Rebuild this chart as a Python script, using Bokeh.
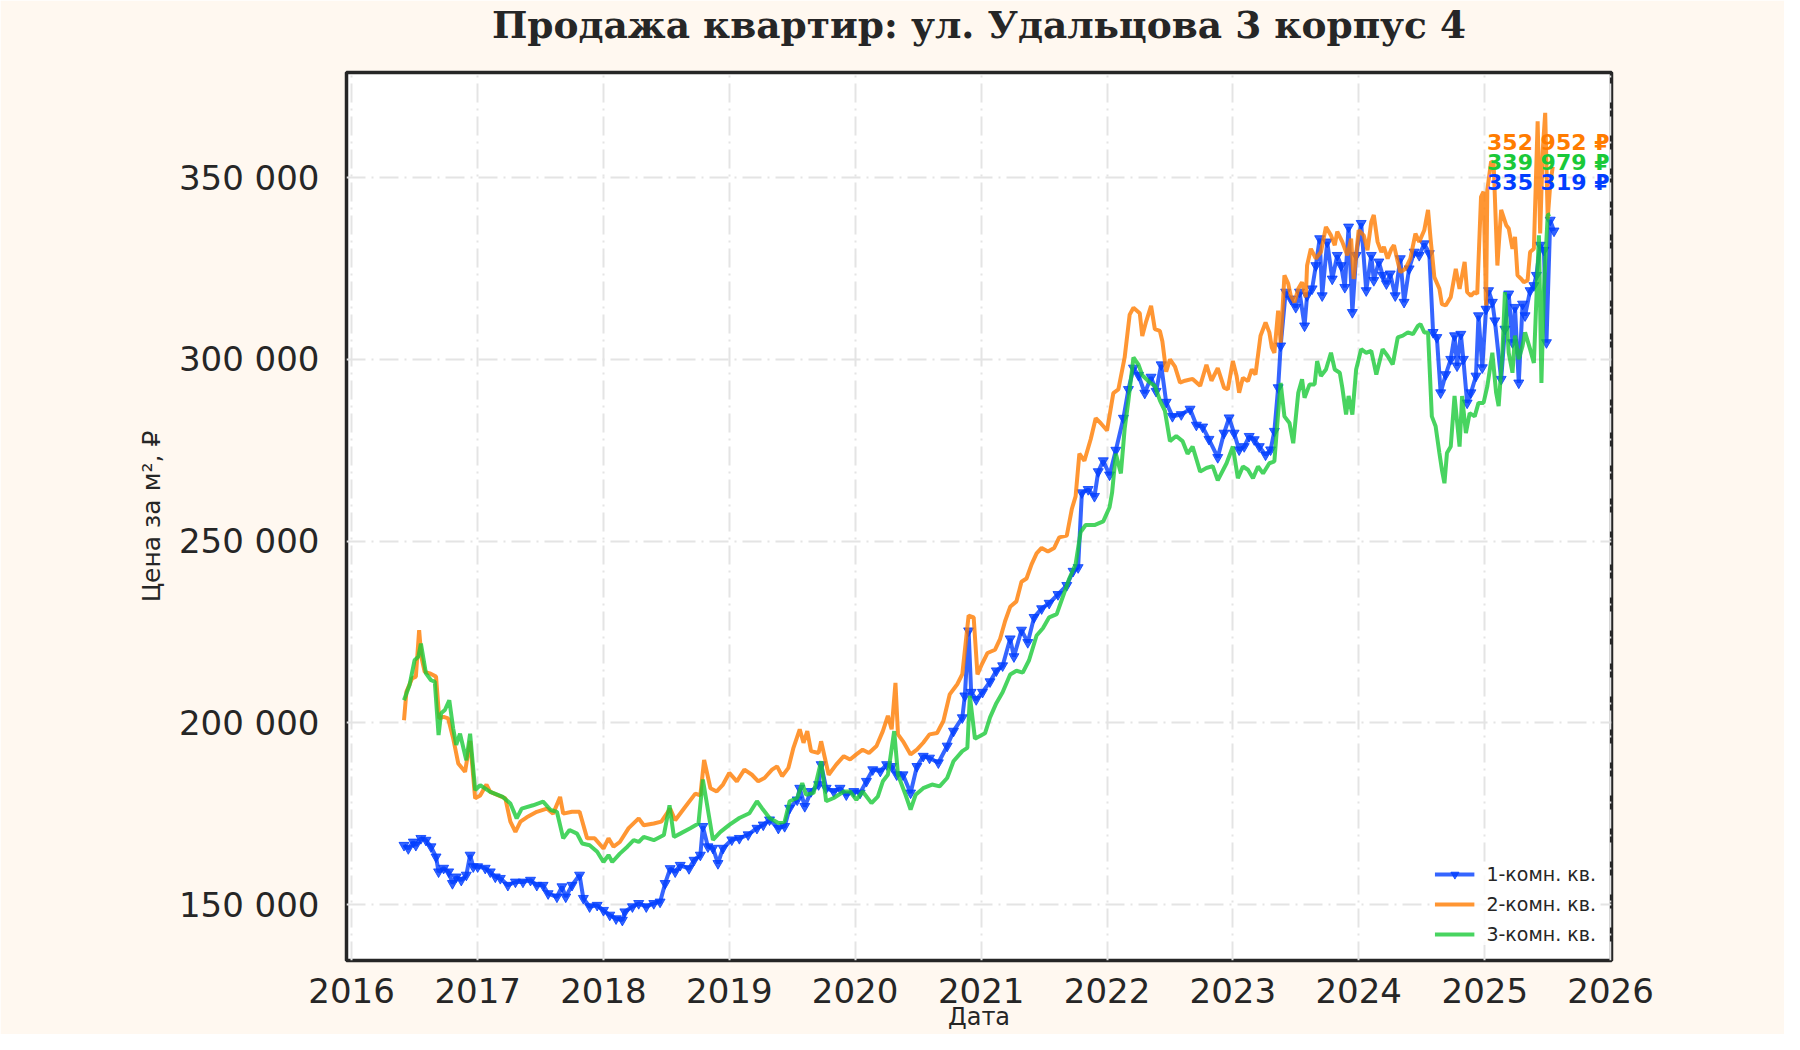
import numpy as np
import pandas as pd
from bokeh.plotting import figure
from bokeh.models import (FixedTicker, CustomJSTickFormatter, DatetimeTickFormatter,
                          Range1d, Legend, LegendItem, Label, Title)
from bokeh.embed import file_html
from bokeh.resources import INLINE

# ---------------- data (decimal years, price in thousand RUB per m2) ----------------
one_room_t = [2016.416, 2016.45, 2016.49, 2016.51, 2016.55, 2016.59, 2016.63, 2016.67, 2016.69, 2016.73,
              2016.77, 2016.8, 2016.83, 2016.87, 2016.91, 2016.94, 2016.965, 2017.0, 2017.06, 2017.1,
              2017.14, 2017.18, 2017.24, 2017.3, 2017.36, 2017.42, 2017.47, 2017.52, 2017.56, 2017.63,
              2017.67, 2017.7, 2017.75, 2017.81, 2017.84, 2017.89, 2017.95, 2018.0, 2018.05, 2018.1,
              2018.15, 2018.17, 2018.23, 2018.28, 2018.34, 2018.4, 2018.45, 2018.49, 2018.53, 2018.57,
              2018.61, 2018.68, 2018.72, 2018.77, 2018.79, 2018.83, 2018.87, 2018.91, 2018.95, 2019.02,
              2019.08, 2019.15, 2019.22, 2019.27, 2019.32, 2019.39, 2019.44, 2019.48, 2019.54, 2019.56,
              2019.6, 2019.65, 2019.71, 2019.73, 2019.77, 2019.83, 2019.88, 2019.93, 2019.99, 2020.04,
              2020.09, 2020.14, 2020.2, 2020.25, 2020.29, 2020.33, 2020.38, 2020.44, 2020.49, 2020.54,
              2020.59, 2020.66, 2020.73, 2020.78, 2020.85, 2020.87, 2020.9, 2020.92, 2020.96, 2021.01,
              2021.07, 2021.12, 2021.17, 2021.23, 2021.26, 2021.32, 2021.37, 2021.42, 2021.48, 2021.54,
              2021.61, 2021.68, 2021.73, 2021.77, 2021.8, 2021.85, 2021.9, 2021.93, 2021.97, 2022.02,
              2022.07, 2022.13, 2022.17, 2022.21, 2022.25, 2022.3, 2022.35, 2022.39, 2022.43, 2022.47,
              2022.52, 2022.59, 2022.66, 2022.71, 2022.76, 2022.81, 2022.88, 2022.93, 2022.97, 2023.01,
              2023.05, 2023.09, 2023.13, 2023.17, 2023.21, 2023.26, 2023.3, 2023.33, 2023.36, 2023.38,
              2023.42, 2023.46, 2023.5, 2023.53, 2023.57, 2023.59, 2023.63, 2023.66, 2023.69, 2023.71,
              2023.75, 2023.79, 2023.83, 2023.86, 2023.89, 2023.92, 2023.95, 2023.98, 2024.02, 2024.06,
              2024.1, 2024.12, 2024.16, 2024.19, 2024.22, 2024.25, 2024.29, 2024.33, 2024.36, 2024.4,
              2024.44, 2024.48, 2024.52, 2024.56, 2024.59, 2024.62, 2024.65, 2024.69, 2024.73, 2024.76,
              2024.78, 2024.81, 2024.83, 2024.86, 2024.89, 2024.93, 2024.95, 2024.98, 2025.01, 2025.03,
              2025.06, 2025.08, 2025.13, 2025.16, 2025.19, 2025.22, 2025.24, 2025.27, 2025.3, 2025.32,
              2025.36, 2025.39, 2025.41, 2025.44, 2025.47, 2025.49, 2025.52, 2025.55]
one_room_k = [166.3, 165.4, 167.2, 166.3, 168.2, 167.7, 165.9, 163.1, 159.0, 160.0,
              159.0, 155.8, 157.6, 156.7, 158.1, 163.6, 160.4, 160.4, 160.0, 159.0,
              157.6, 157.2, 155.3, 156.2, 156.2, 156.7, 155.3, 155.3, 153.0, 152.1,
              154.9, 152.1, 155.3, 158.1, 151.7, 149.4, 149.8, 148.4, 147.1, 146.1,
              145.7, 148.0, 149.4, 150.3, 149.4, 150.3, 150.7, 155.8, 159.9, 159.0,
              160.8, 159.9, 162.2, 163.6, 171.5, 165.9, 165.5, 161.3, 165.5, 167.8,
              168.2, 169.2, 171.0, 171.9, 173.3, 171.0, 171.5, 176.5, 178.8, 182.0,
              177.0, 181.1, 183.0, 188.5, 182.0, 181.1, 182.0, 180.2, 181.1, 180.7,
              183.9, 187.1, 186.7, 188.5, 188.0, 185.7, 185.7, 180.7, 188.0, 190.8,
              190.3, 189.0, 193.6, 197.7, 201.4, 207.4, 225.3, 208.4, 206.4, 208.4,
              211.3, 214.3, 215.7, 223.1, 218.2, 225.5, 222.1, 229.0, 231.4, 232.9,
              235.3, 237.8, 241.7, 242.7, 263.3, 264.2, 262.3, 269.1, 272.1, 268.2,
              275.0, 283.8, 291.7, 297.6, 295.6, 290.7, 295.1, 291.2, 298.5, 288.2,
              284.3, 284.8, 286.3, 281.9, 281.4, 278.0, 273.0, 279.7, 283.9, 279.7,
              275.1, 276.0, 278.8, 277.9, 276.0, 273.7, 275.1, 280.2, 292.2, 303.7,
              318.5, 316.6, 314.3, 318.5, 309.2, 317.5, 319.4, 325.8, 333.2, 317.5,
              332.3, 322.1, 328.6, 325.8, 319.8, 336.4, 312.9, 328.6, 337.4, 318.9,
              328.6, 321.7, 326.8, 323.1, 320.8, 323.5, 317.5, 327.7, 315.7, 324.9,
              329.5, 328.6, 331.8, 329.1, 307.4, 306.0, 290.8, 295.8, 300.0, 306.5,
              298.2, 306.9, 300.0, 288.0, 290.8, 295.4, 312.0, 297.7, 313.8, 318.9,
              315.7, 310.6, 294.5, 308.3, 318.0, 304.6, 314.3, 293.5, 315.2, 312.0,
              318.9, 320.3, 323.1, 331.4, 330.0, 304.6, 338.3, 335.319]

two_room_t = [2016.416, 2016.435, 2016.48, 2016.51, 2016.536, 2016.554, 2016.58, 2016.62, 2016.67, 2016.695,
              2016.73, 2016.766, 2016.806, 2016.846, 2016.9, 2016.94, 2016.98, 2017.02, 2017.07, 2017.1,
              2017.22, 2017.26, 2017.3, 2017.34, 2017.39, 2017.47, 2017.55, 2017.6, 2017.655, 2017.68,
              2017.75, 2017.81, 2017.87, 2017.93, 2018.0, 2018.04, 2018.08, 2018.13, 2018.2, 2018.28,
              2018.32, 2018.4, 2018.46, 2018.53, 2018.57, 2018.64, 2018.73, 2018.77, 2018.8, 2018.85,
              2018.9, 2018.95, 2019.0, 2019.06, 2019.12, 2019.18, 2019.23, 2019.28, 2019.34, 2019.38,
              2019.42, 2019.47, 2019.51, 2019.56, 2019.59, 2019.62, 2019.65, 2019.71, 2019.73, 2019.76,
              2019.79, 2019.85, 2019.91, 2019.96, 2020.01, 2020.06, 2020.11, 2020.17, 2020.22, 2020.26,
              2020.29, 2020.32, 2020.34, 2020.38, 2020.44, 2020.49, 2020.54, 2020.59, 2020.65, 2020.7,
              2020.75, 2020.81, 2020.85, 2020.9, 2020.94, 2020.97, 2021.0, 2021.05, 2021.11, 2021.15,
              2021.19, 2021.23, 2021.28, 2021.32, 2021.36, 2021.4, 2021.44, 2021.48, 2021.53, 2021.58,
              2021.62, 2021.68, 2021.72, 2021.75, 2021.78, 2021.82, 2021.87, 2021.91, 2021.95, 2022.0,
              2022.05, 2022.09, 2022.14, 2022.18, 2022.21, 2022.26, 2022.28, 2022.31, 2022.35, 2022.38,
              2022.42, 2022.44, 2022.47, 2022.5, 2022.54, 2022.58, 2022.62, 2022.68, 2022.74, 2022.79,
              2022.83, 2022.88, 2022.93, 2022.96, 2023.0, 2023.03, 2023.05, 2023.08, 2023.12, 2023.15,
              2023.18, 2023.22, 2023.26, 2023.29, 2023.31, 2023.33, 2023.36, 2023.38, 2023.41, 2023.44,
              2023.46, 2023.49, 2023.52, 2023.55, 2023.58, 2023.59, 2023.62, 2023.66, 2023.7, 2023.74,
              2023.78, 2023.81, 2023.83, 2023.87, 2023.91, 2023.94, 2023.96, 2024.0, 2024.04, 2024.07,
              2024.1, 2024.12, 2024.15, 2024.18, 2024.2, 2024.23, 2024.26, 2024.28, 2024.31, 2024.33,
              2024.37, 2024.41, 2024.45, 2024.48, 2024.52, 2024.55, 2024.57, 2024.6, 2024.64, 2024.66,
              2024.69, 2024.73, 2024.77, 2024.8, 2024.84, 2024.86, 2024.89, 2024.92, 2024.94, 2024.97,
              2024.99, 2025.01, 2025.02, 2025.05, 2025.07, 2025.1, 2025.13, 2025.17, 2025.19, 2025.22,
              2025.24, 2025.26, 2025.29, 2025.31, 2025.34, 2025.36, 2025.39, 2025.42, 2025.44, 2025.46,
              2025.48, 2025.5, 2025.52, 2025.54]
two_room_k = [200.7, 208.5, 212.2, 212.7, 225.5, 218.0, 214.0, 213.6, 212.7, 201.2,
              201.6, 201.2, 195.7, 188.8, 186.5, 195.0, 179.2, 180.0, 183.0, 181.0,
              179.2, 172.8, 170.0, 172.8, 174.0, 175.5, 176.4, 175.0, 179.6, 175.0,
              175.5, 175.5, 168.2, 168.2, 165.4, 168.2, 165.9, 167.2, 171.0, 173.7,
              171.8, 172.3, 172.8, 176.4, 173.2, 176.4, 180.5, 180.0, 189.8, 182.0,
              181.1, 183.0, 186.2, 183.9, 187.1, 185.7, 183.9, 184.8, 187.1, 188.0,
              185.3, 187.6, 193.1, 198.2, 194.5, 197.7, 192.2, 191.7, 194.9, 190.3,
              185.7, 188.5, 190.8, 189.9, 191.3, 192.6, 191.7, 193.6, 197.7, 201.9,
              198.2, 211.0, 196.8, 194.9, 191.3, 192.6, 194.5, 196.8, 197.2, 200.5,
              207.8, 210.6, 213.4, 229.5, 229.0, 213.3, 215.7, 219.2, 220.1, 223.1,
              228.0, 231.9, 233.4, 238.8, 239.7, 243.6, 246.6, 248.1, 247.1, 248.1,
              251.0, 251.5, 258.8, 262.3, 274.0, 272.1, 278.0, 283.8, 282.4, 280.4,
              290.7, 291.7, 300.5, 312.3, 314.2, 312.7, 306.4, 310.3, 314.7, 308.3,
              307.8, 304.9, 296.6, 300.0, 298.0, 293.6, 294.1, 294.6, 292.7, 298.5,
              294.1, 297.6, 292.2, 291.7, 299.5, 295.4, 290.8, 294.9, 294.0, 297.2,
              295.8, 306.5, 310.1, 307.4, 303.2, 301.8, 313.4, 304.6, 323.1, 320.8,
              317.5, 315.7, 319.4, 321.2, 317.1, 325.8, 330.4, 327.7, 329.5, 336.4,
              334.1, 331.4, 335.1, 332.3, 328.6, 333.2, 322.1, 335.5, 334.1, 330.0,
              337.8, 339.7, 332.3, 329.5, 330.9, 327.7, 330.4, 331.4, 326.8, 324.0,
              324.9, 327.7, 334.6, 332.3, 335.5, 341.1, 333.2, 322.6, 319.4, 315.2,
              314.8, 317.1, 324.9, 319.4, 326.8, 318.5, 317.5, 318.5, 318.0, 344.7,
              346.1, 314.8, 346.6, 354.4, 354.0, 325.8, 341.1, 336.9, 336.0, 330.4,
              333.7, 323.1, 322.1, 321.2, 321.7, 329.5, 330.4, 365.5, 334.6, 357.2,
              367.8, 338.7, 348.0, 352.952]

three_room_t = [2016.416, 2016.46, 2016.5, 2016.53, 2016.55, 2016.59, 2016.63, 2016.66, 2016.69, 2016.71,
                2016.74, 2016.775, 2016.806, 2016.83, 2016.86, 2016.91, 2016.94, 2016.98, 2017.02, 2017.1,
                2017.2, 2017.26, 2017.31, 2017.35, 2017.44, 2017.52, 2017.58, 2017.63, 2017.68, 2017.73,
                2017.79, 2017.83, 2017.89, 2017.95, 2018.0, 2018.04, 2018.07, 2018.13, 2018.19, 2018.24,
                2018.28, 2018.32, 2018.4, 2018.48, 2018.525, 2018.56, 2018.61, 2018.69, 2018.755, 2018.79,
                2018.87, 2018.93, 2019.0, 2019.08, 2019.16, 2019.22, 2019.26, 2019.32, 2019.39, 2019.44,
                2019.48, 2019.54, 2019.58, 2019.61, 2019.67, 2019.73, 2019.77, 2019.83, 2019.91, 2019.96,
                2020.01, 2020.06, 2020.13, 2020.18, 2020.22, 2020.26, 2020.31, 2020.34, 2020.4, 2020.44,
                2020.48, 2020.54, 2020.61, 2020.67, 2020.73, 2020.78, 2020.85, 2020.89, 2020.91, 2020.95,
                2021.03, 2021.07, 2021.12, 2021.17, 2021.23, 2021.28, 2021.33, 2021.38, 2021.44, 2021.49,
                2021.54, 2021.6, 2021.65, 2021.7, 2021.75, 2021.79, 2021.83, 2021.9, 2021.97, 2022.02,
                2022.04, 2022.07, 2022.11, 2022.14, 2022.17, 2022.21, 2022.25, 2022.28, 2022.34, 2022.38,
                2022.42, 2022.46, 2022.5, 2022.55, 2022.6, 2022.64, 2022.68, 2022.74, 2022.79, 2022.84,
                2022.88, 2022.95, 2023.0, 2023.04, 2023.08, 2023.12, 2023.16, 2023.2, 2023.24, 2023.29,
                2023.33, 2023.36, 2023.38, 2023.41, 2023.45, 2023.48, 2023.52, 2023.55, 2023.57, 2023.61,
                2023.65, 2023.67, 2023.7, 2023.74, 2023.78, 2023.81, 2023.85, 2023.87, 2023.9, 2023.92,
                2023.95, 2023.98, 2024.02, 2024.06, 2024.1, 2024.14, 2024.19, 2024.23, 2024.27, 2024.31,
                2024.35, 2024.39, 2024.43, 2024.47, 2024.49, 2024.52, 2024.55, 2024.58, 2024.61, 2024.64,
                2024.66, 2024.68, 2024.7, 2024.73, 2024.76, 2024.8, 2024.82, 2024.85, 2024.88, 2024.92,
                2024.95, 2024.99, 2025.02, 2025.06, 2025.09, 2025.11, 2025.14, 2025.16, 2025.19, 2025.22,
                2025.24, 2025.27, 2025.3, 2025.32, 2025.36, 2025.39, 2025.43, 2025.45, 2025.47, 2025.5,
                2025.52]
three_room_k = [206.2, 210.4, 217.2, 218.2, 221.8, 213.6, 211.7, 211.3, 196.6, 202.6,
                203.5, 206.2, 198.4, 193.9, 197.0, 189.7, 197.0, 181.5, 182.8, 181.0,
                179.6, 177.8, 173.7, 176.4, 177.3, 178.3, 176.0, 175.5, 168.2, 170.5,
                169.5, 166.8, 166.3, 164.5, 161.7, 163.6, 161.7, 164.0, 165.9, 167.7,
                167.2, 168.6, 167.7, 169.1, 177.3, 168.6, 169.5, 171.0, 172.3, 184.4,
                167.8, 170.0, 171.9, 173.8, 175.1, 178.4, 176.5, 173.8, 172.4, 172.8,
                178.4, 179.3, 183.4, 180.2, 180.7, 189.4, 178.4, 179.3, 181.1, 181.1,
                178.8, 181.1, 177.9, 179.7, 183.9, 185.7, 197.7, 185.7, 180.2, 176.1,
                180.2, 182.0, 183.0, 182.5, 184.8, 189.4, 192.2, 193.1, 207.4, 195.6,
                197.1, 201.5, 205.4, 208.4, 213.3, 214.3, 213.8, 217.2, 224.0, 226.0,
                229.0, 229.9, 234.8, 239.7, 243.6, 252.5, 254.4, 254.4, 255.4, 259.3,
                263.3, 274.0, 268.6, 280.9, 288.7, 300.5, 298.5, 295.6, 293.6, 292.7,
                288.7, 285.8, 277.5, 278.9, 277.5, 274.0, 276.0, 269.1, 270.1, 270.6,
                266.7, 271.4, 276.0, 267.3, 270.5, 269.6, 267.3, 270.5, 268.6, 271.4,
                271.9, 285.2, 293.5, 284.3, 282.5, 276.9, 290.8, 294.5, 289.4, 293.1,
                293.1, 299.5, 295.4, 297.2, 301.8, 297.2, 296.3, 292.2, 284.8, 289.9,
                284.8, 297.2, 302.8, 301.8, 302.3, 295.8, 302.8, 300.9, 298.6, 306.0,
                306.5, 307.4, 306.9, 309.2, 309.7, 307.4, 307.4, 284.3, 281.6, 274.2,
                269.6, 265.9, 274.2, 276.0, 289.9, 276.0, 289.9, 279.7, 285.2, 284.3,
                288.0, 288.0, 292.6, 301.8, 290.8, 287.1, 301.8, 318.5, 301.8, 296.3,
                306.5, 300.0, 303.7, 307.4, 302.8, 299.0, 334.1, 293.5, 319.4, 339.7,
                339.979]

series_names = ["1-комн. кв.", "2-комн. кв.", "3-комн. кв."]
series_colors = ["#023eff", "#ff7c00", "#1ac938"]
y_ticks = [150000, 200000, 250000, 300000, 350000]
x_tick_years = list(range(2016, 2027))
label_y = [359600, 354100, 348600]   # positions of the last-value labels (orange, green, blue)


def to_dt(years):
    out = []
    for y in years:
        yi = int(np.floor(y))
        start = pd.Timestamp(yi, 1, 1)
        end = pd.Timestamp(yi + 1, 1, 1)
        out.append(start + (end - start) * (y - yi))
    return out


xs = [to_dt(one_room_t), to_dt(two_room_t), to_dt(three_room_t)]
ys = [[v * 1000 for v in one_room_k], [v * 1000 for v in two_room_k], [v * 1000 for v in three_room_k]]

all_x = [d for s in xs for d in s]
all_y = [v for s in ys for v in s]
xmin, xmax = min(all_x), max(all_x)
ymin, ymax = min(all_y), max(all_y)
xspan = xmax - xmin
yspan = ymax - ymin
x_start = xmin - xspan * 0.05
x_end = xmax + xspan * 0.05

TXT = "#262626"
p = figure(width=1784, height=1034, x_axis_type="datetime", output_backend="svg",
           toolbar_location=None,
           x_range=Range1d(x_start, x_end),
           y_range=Range1d(ymin - 0.05 * yspan, ymax + 0.05 * yspan),
           min_border_left=346, min_border_right=173, min_border_top=71, min_border_bottom=74,
           background_fill_color="#ffffff", border_fill_color="#fff8f0")

p.title.text = "Продажа квартир: ул. Удальцова 3 корпус 4"
p.title.align = "center"
p.title.text_font = "DejaVu Serif"
p.title.text_font_style = "bold"
p.title.text_font_size = "37.5px"
p.title.text_color = TXT
p.title.standoff = 0

# blank spacer between the title and the frame (pushes the title to the top edge)
spacer = Title(text=" ", text_font_size="2px", standoff=22, text_color="#fff8f0")
p.add_layout(spacer, "above")

p.outline_line_color = TXT
p.outline_line_width = 3.5
p.outline_line_alpha = 1.0

xt = FixedTicker(ticks=[pd.Timestamp(y, 1, 1).value / 1e6 for y in x_tick_years])
yt = FixedTicker(ticks=y_ticks)
p.xaxis.ticker = xt
p.yaxis.ticker = yt
p.xgrid.ticker = xt
p.ygrid.ticker = yt
p.xaxis.formatter = DatetimeTickFormatter(years="%Y", months="%Y", days="%Y", hours="%Y",
                                          hourmin="%Y", minutes="%Y", minsec="%Y", seconds="%Y",
                                          milliseconds="%Y", microseconds="%Y")
p.yaxis.formatter = CustomJSTickFormatter(code=r"return Math.round(tick).toString().replace(/\B(?=(\d{3})+(?!\d))/g, ' ');")

for ax in (p.xaxis[0], p.yaxis[0]):
    ax.axis_line_color = None
    ax.major_tick_line_color = None
    ax.minor_tick_line_color = None
    ax.major_tick_out = 0
    ax.major_tick_in = 0
    ax.major_label_text_font = "DejaVu Sans"
    ax.major_label_text_font_size = "34px"
    ax.major_label_text_color = TXT
    ax.axis_label_text_font = "DejaVu Sans"
    ax.axis_label_text_font_size = "25px"
    ax.axis_label_text_font_style = "normal"
    ax.axis_label_text_color = TXT

p.xaxis.axis_label = "Дата"
p.yaxis.axis_label = "Цена за м², ₽"
p.xaxis.axis_label_text_font_size = "24px"
p.yaxis.major_label_standoff = 27
p.xaxis.major_label_standoff = 17
p.yaxis.axis_label_standoff = 10
p.xaxis.axis_label_standoff = -3

p.grid.grid_line_color = "#e4e4e4"
p.grid.grid_line_width = 2
p.grid.grid_line_dash = "19 6 2 6"

items = []
for i in range(3):
    r = p.line(xs[i], ys[i], line_color=series_colors[i], line_width=4, line_alpha=0.8)
    rs = [r]
    if i == 0:
        sc = p.scatter(xs[i], ys[i], marker="inverted_triangle", size=10,
                       fill_color=series_colors[i], line_color=series_colors[i], alpha=0.8)
        rs.append(sc)
    items.append(LegendItem(label=series_names[i], renderers=rs))

legend = Legend(items=items, location="bottom_right")
legend.label_text_font = "DejaVu Sans"
legend.label_text_font_size = "19px"
legend.label_text_color = TXT
legend.glyph_width = 40
legend.glyph_height = 20
legend.label_height = 20
legend.label_standoff = 12
legend.spacing = 8
legend.padding = 12
legend.margin = 15
legend.border_line_color = None
legend.background_fill_color = "#ffffff"
legend.background_fill_alpha = 0.8
p.add_layout(legend)

# last-value labels: orange, green, blue
order = [1, 2, 0]
x_end_ms = pd.Timestamp(x_end).value / 1e6
for k, i in enumerate(order):
    last = int(round(ys[i][-1]))
    txt = "{:,}".format(last).replace(",", " ") + " ₽"
    p.add_layout(Label(x=x_end_ms, y=label_y[k], text=txt, text_align="right", text_baseline="middle",
                       x_offset=-2, text_font="DejaVu Sans", text_font_style="bold",
                       text_font_size="22px", text_color=series_colors[i]))

open("out.html", "w").write(file_html(p, INLINE))
